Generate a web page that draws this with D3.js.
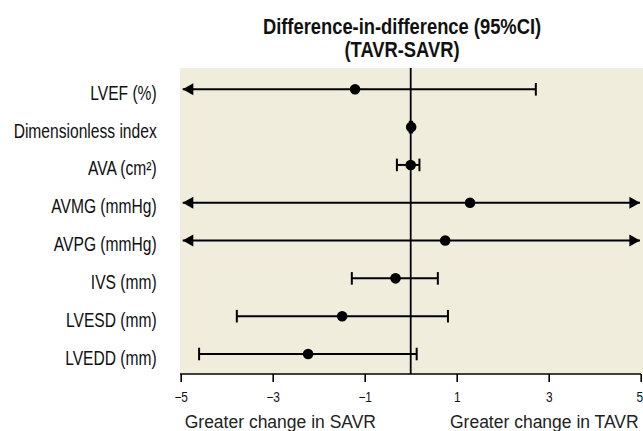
<!DOCTYPE html>
<meta charset="utf-8">
<head>
    <title>Difference-in-difference (TAVR-SAVR)</title>
    <script type="text/javascript" src="https://d3js.org/d3.v7.min.js"></script>
    <style>
        body { margin: 0; background: #fff; }
        .label { font-family: "Liberation Sans", Arial, sans-serif; font-size: 19.5px; fill: #111; }
        .title { font-family: "Liberation Sans", Arial, sans-serif; font-size: 22.5px; font-weight: bold; fill: #111; }
        .tick text { font-family: "Liberation Sans", Arial, sans-serif; font-size: 14px; fill: #111; }
        .side { font-family: "Liberation Sans", Arial, sans-serif; font-size: 17.5px; fill: #222; }
    </style>
</head>

<body>
    <script>
        // outcomes, top to bottom
        var labels = ["LVEF (%)", "Dimensionless index", "AVA (cm²)", "AVMG (mmHg)",
                      "AVPG (mmHg)", "IVS (mm)", "LVESD (mm)", "LVEDD (mm)"];
        // difference-in-difference estimates and 95% CI
        // null = interval runs past the edge of the axis (drawn as an arrow)
        var estimate = [-1.21, 0.01, 0.00, 1.29, 0.75, -0.33, -1.49, -2.23];
        var lower    = [null, -0.02, -0.30, null, null, -1.28, -3.78, -4.60];
        var upper    = [2.72, 0.03, 0.19, null, null, 0.59, 0.81, 0.13];
        var tickVals = [-5, -3, -1, 1, 3, 5];
        var sideLabels = ["Greater change in SAVR", "Greater change in TAVR"];

        var width = 643, height = 431;
        var plot = {left: 180, right: 643, top: 68, bottom: 374};

        // no narrow font installed, so squeeze text horizontally
        function squeeze(sel, k) {
            sel.each(function(){
                var w = this.getComputedTextLength();
                d3.select(this).attr("textLength", w * k).attr("lengthAdjust", "spacingAndGlyphs");
            });
        }

        var svg = d3.select("body").append("svg")
            .attr("width", width)
            .attr("height", height);

        var x = d3.scaleLinear().domain([-5, 5]).range([180.7, 640.7]);
        var y = d3.scalePoint().domain(labels).range([89.3, 354]);

        // background panel
        svg.append("rect")
            .attr("x", plot.left)
            .attr("y", plot.top)
            .attr("width", plot.right - plot.left)
            .attr("height", plot.bottom - plot.top)
            .attr("fill", "#f1eddc");

        // title
        svg.append("text").attr("class", "title").attr("text-anchor", "middle")
            .attr("x", 402).attr("y", 34).text("Difference-in-difference (95%CI)")
            .call(squeeze, 0.815);
        svg.append("text").attr("class", "title").attr("text-anchor", "middle")
            .attr("x", 402).attr("y", 57).text("(TAVR-SAVR)")
            .call(squeeze, 0.815);

        // x axis
        var xAxis = d3.axisBottom(x)
            .tickValues(tickVals)
            .tickSize(8)
            .tickSizeOuter(0)
            .tickPadding(10)
            .tickFormat(d3.format("d"));
        var gx = svg.append("g")
            .attr("transform", "translate(0," + plot.bottom + ")")
            .call(xAxis);
        gx.select(".domain").attr("stroke-width", 1.6).attr("d", "M" + plot.left + ",0H" + 641);
        gx.selectAll(".tick line").attr("stroke-width", 1.6);
        gx.selectAll(".tick text").call(squeeze, 0.85);
        // keep the last label inside the picture
        gx.selectAll(".tick text").filter(function(d){ return d == 5; }).attr("x", -1.5);

        // zero line
        svg.append("line")
            .attr("x1", x(0)).attr("x2", x(0))
            .attr("y1", plot.top).attr("y2", plot.bottom)
            .attr("stroke", "#000")
            .attr("stroke-width", 1.8);

        // row labels
        svg.selectAll(".label")
            .data(labels)
            .enter()
            .append("text")
            .attr("class", "label")
            .attr("text-anchor", "end")
            .attr("x", 156.7)
            .attr("y", function(d){ return y(d); })
            .attr("dy", "0.54em")
            .text(function(d){ return d; })
            .call(squeeze, 0.8);

        // build rows for the marks
        var rows = [];
        for (var i = 0; i < labels.length; i++) {
            rows.push({label: labels[i], est: estimate[i], lo: lower[i], hi: upper[i]});
        }

        var loX = function(d){ return d.lo === null ? x(-5) + 2 : x(d.lo); };
        var hiX = function(d){ return d.hi === null ? x(5) - 0.7 : x(d.hi); };

        var g = svg.append("g").attr("id", "marks");

        // CI lines
        g.selectAll(".ci")
            .data(rows)
            .enter()
            .append("line")
            .attr("x1", loX).attr("x2", hiX)
            .attr("y1", function(d){ return y(d.label); })
            .attr("y2", function(d){ return y(d.label); })
            .attr("stroke", "#000")
            .attr("stroke-width", 2);

        // caps where the interval ends inside the axis
        g.selectAll(".capLo")
            .data(rows.filter(function(d){ return d.lo !== null; }))
            .enter()
            .append("line")
            .attr("x1", loX).attr("x2", loX)
            .attr("y1", function(d){ return y(d.label) - 6.3; })
            .attr("y2", function(d){ return y(d.label) + 6.3; })
            .attr("stroke", "#000")
            .attr("stroke-width", 2);
        g.selectAll(".capHi")
            .data(rows.filter(function(d){ return d.hi !== null; }))
            .enter()
            .append("line")
            .attr("x1", hiX).attr("x2", hiX)
            .attr("y1", function(d){ return y(d.label) - 6.3; })
            .attr("y2", function(d){ return y(d.label) + 6.3; })
            .attr("stroke", "#000")
            .attr("stroke-width", 2);

        // arrows where the interval runs off the axis
        g.selectAll(".arrLo")
            .data(rows.filter(function(d){ return d.lo === null; }))
            .enter()
            .append("path")
            .attr("d", function(d){
                var tx = loX(d), ty = y(d.label);
                return "M" + tx + "," + ty + "L" + (tx + 10.6) + "," + (ty - 6) + "L" + (tx + 10.6) + "," + (ty + 6) + "Z";
            })
            .attr("fill", "#000");
        g.selectAll(".arrHi")
            .data(rows.filter(function(d){ return d.hi === null; }))
            .enter()
            .append("path")
            .attr("d", function(d){
                var tx = hiX(d), ty = y(d.label);
                return "M" + tx + "," + ty + "L" + (tx - 10.6) + "," + (ty - 6) + "L" + (tx - 10.6) + "," + (ty + 6) + "Z";
            })
            .attr("fill", "#000");

        // point estimates
        g.selectAll(".dot")
            .data(rows)
            .enter()
            .append("circle")
            .attr("cx", function(d){ return x(d.est); })
            .attr("cy", function(d){ return y(d.label); })
            .attr("r", 5.3)
            .attr("fill", "#000");

        // direction labels under the axis
        svg.append("text").attr("class", "side")
            .attr("x", x(-5) + 4).attr("y", 427.5)
            .attr("text-anchor", "start")
            .text(sideLabels[0]);
        svg.append("text").attr("class", "side")
            .attr("x", x(5) - 2).attr("y", 427.5)
            .attr("text-anchor", "end")
            .text(sideLabels[1]);
    </script>
</body>
</html>
